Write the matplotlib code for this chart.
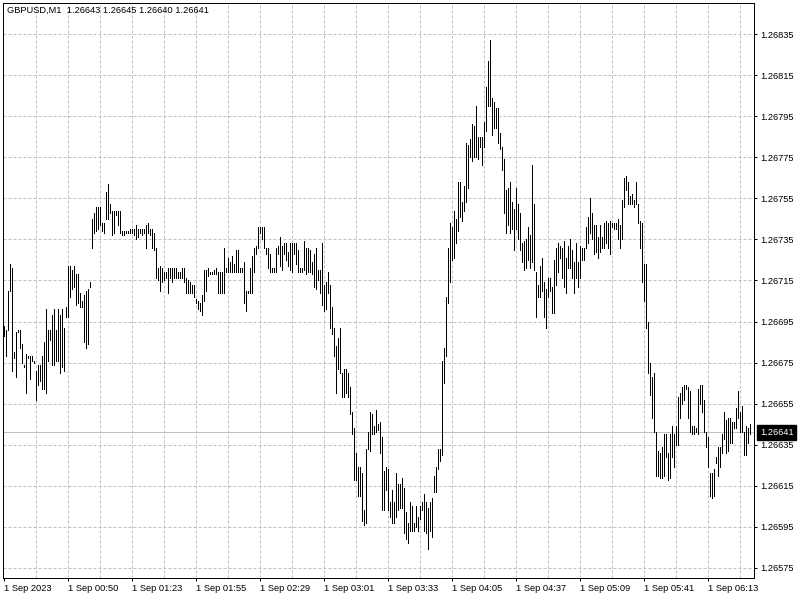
import matplotlib
matplotlib.use("Agg")
import matplotlib.pyplot as plt
import matplotlib.transforms as mtransforms
import numpy as np

# GBPUSD M1 bars, high / low of each minute
highs = [
    1.26693, 1.26691, 1.26710, 1.26723, 1.26721, 1.26680, 1.26690, 1.26691, 1.26691, 1.26684,
    1.26674, 1.26679, 1.26678, 1.26678, 1.26678, 1.26676, 1.26671, 1.26674, 1.26674, 1.26678,
    1.26685, 1.26701, 1.26691, 1.26691, 1.26698, 1.26701, 1.26691, 1.26701, 1.26698, 1.26701,
    1.26692, 1.26702, 1.26722, 1.26722, 1.26720, 1.26722, 1.26718, 1.26718, 1.26709, 1.26705,
    1.26708, 1.26710, 1.26711, 1.26714, 1.26745, 1.26748, 1.26751, 1.26751, 1.26751, 1.26743,
    1.26743, 1.26758, 1.26762, 1.26752, 1.26749, 1.26749, 1.26749, 1.26749, 1.26749, 1.26739,
    1.26739, 1.26739, 1.26739, 1.26740, 1.26740, 1.26740, 1.26742, 1.26740, 1.26740, 1.26740,
    1.26740, 1.26742, 1.26743, 1.26740, 1.26740, 1.26738, 1.26731, 1.26721, 1.26722, 1.26721,
    1.26719, 1.26719, 1.26721, 1.26721, 1.26721, 1.26721, 1.26721, 1.26719, 1.26719, 1.26721,
    1.26721, 1.26716, 1.26715, 1.26714, 1.26713, 1.26713, 1.26706, 1.26705, 1.26704, 1.26708,
    1.26720, 1.26720, 1.26721, 1.26719, 1.26719, 1.26720, 1.26721, 1.26719, 1.26719, 1.26719,
    1.26731, 1.26721, 1.26726, 1.26724, 1.26727, 1.26723, 1.26730, 1.26730, 1.26721, 1.26721,
    1.26724, 1.26710, 1.26710, 1.26721, 1.26727, 1.26731, 1.26732, 1.26741, 1.26741, 1.26741,
    1.26741, 1.26731, 1.26731, 1.26728, 1.26721, 1.26721, 1.26731, 1.26732, 1.26736, 1.26732,
    1.26733, 1.26733, 1.26729, 1.26733, 1.26733, 1.26733, 1.26733, 1.26730, 1.26721, 1.26721,
    1.26734, 1.26731, 1.26731, 1.26730, 1.26724, 1.26728, 1.26731, 1.26720, 1.26720, 1.26733,
    1.26713, 1.26714, 1.26719, 1.26713, 1.26702, 1.26692, 1.26683, 1.26687, 1.26692, 1.26670,
    1.26672, 1.26672, 1.26670, 1.26663, 1.26651, 1.26643, 1.26631, 1.26624, 1.26624, 1.26621,
    1.26603, 1.26633, 1.26641, 1.26651, 1.26650, 1.26644, 1.26652, 1.26645, 1.26646, 1.26639,
    1.26622, 1.26624, 1.26623, 1.26607, 1.26613, 1.26607, 1.26621, 1.26616, 1.26616, 1.26619,
    1.26614, 1.26602, 1.26597, 1.26607, 1.26605, 1.26597, 1.26605, 1.26600, 1.26605, 1.26607,
    1.26611, 1.26607, 1.26604, 1.26607, 1.26609, 1.26620, 1.26624, 1.26633, 1.26633, 1.26676,
    1.26682, 1.26707, 1.26731, 1.26743, 1.26741, 1.26749, 1.26745, 1.26763, 1.26763, 1.26753,
    1.26761, 1.26782, 1.26781, 1.26784, 1.26791, 1.26790, 1.26800, 1.26785, 1.26785, 1.26785,
    1.26792, 1.26809, 1.26822, 1.26832, 1.26804, 1.26802, 1.26799, 1.26799, 1.26787, 1.26780,
    1.26774, 1.26759, 1.26760, 1.26763, 1.26753, 1.26750, 1.26760, 1.26752, 1.26748, 1.26733,
    1.26734, 1.26735, 1.26741, 1.26737, 1.26771, 1.26752, 1.26719, 1.26713, 1.26722, 1.26726,
    1.26714, 1.26711, 1.26716, 1.26716, 1.26712, 1.26725, 1.26731, 1.26733, 1.26732, 1.26731,
    1.26734, 1.26726, 1.26732, 1.26735, 1.26730, 1.26724, 1.26733, 1.26724, 1.26732, 1.26731,
    1.26731, 1.26741, 1.26746, 1.26755, 1.26748, 1.26742, 1.26742, 1.26736, 1.26742, 1.26736,
    1.26743, 1.26744, 1.26743, 1.26744, 1.26743, 1.26743, 1.26743, 1.26745, 1.26742, 1.26754,
    1.26765, 1.26766, 1.26763, 1.26756, 1.26757, 1.26754, 1.26763, 1.26752, 1.26744, 1.26743,
    1.26723, 1.26723, 1.26695, 1.26675, 1.26668, 1.26670, 1.26641, 1.26632, 1.26631, 1.26634,
    1.26640, 1.26640, 1.26631, 1.26640, 1.26644, 1.26640, 1.26644, 1.26658, 1.26660, 1.26663,
    1.26664, 1.26664, 1.26663, 1.26661, 1.26644, 1.26644, 1.26643, 1.26662, 1.26664, 1.26664,
    1.26657, 1.26641, 1.26639, 1.26621, 1.26621, 1.26623, 1.26629, 1.26634, 1.26634, 1.26640,
    1.26651, 1.26647, 1.26648, 1.26648, 1.26646, 1.26646, 1.26653, 1.26661, 1.26651, 1.26654,
    1.26641, 1.26644, 1.26643, 1.26645,
]
lows = [
    1.26688, 1.26678, 1.26691, 1.26710, 1.26671, 1.26677, 1.26668, 1.26690, 1.26682, 1.26675,
    1.26673, 1.26660, 1.26677, 1.26667, 1.26676, 1.26675, 1.26657, 1.26664, 1.26666, 1.26662,
    1.26662, 1.26660, 1.26676, 1.26686, 1.26674, 1.26674, 1.26676, 1.26676, 1.26670, 1.26673,
    1.26671, 1.26697, 1.26697, 1.26707, 1.26711, 1.26712, 1.26703, 1.26704, 1.26702, 1.26702,
    1.26685, 1.26682, 1.26684, 1.26712, 1.26731, 1.26738, 1.26739, 1.26740, 1.26742, 1.26739,
    1.26738, 1.26745, 1.26745, 1.26748, 1.26737, 1.26738, 1.26747, 1.26742, 1.26738, 1.26737,
    1.26737, 1.26738, 1.26738, 1.26738, 1.26738, 1.26737, 1.26735, 1.26736, 1.26738, 1.26737,
    1.26738, 1.26731, 1.26738, 1.26737, 1.26731, 1.26730, 1.26716, 1.26715, 1.26710, 1.26714,
    1.26715, 1.26716, 1.26709, 1.26716, 1.26714, 1.26716, 1.26716, 1.26716, 1.26716, 1.26716,
    1.26714, 1.26709, 1.26709, 1.26709, 1.26709, 1.26707, 1.26704, 1.26701, 1.26700, 1.26698,
    1.26705, 1.26710, 1.26717, 1.26718, 1.26718, 1.26718, 1.26718, 1.26709, 1.26709, 1.26709,
    1.26709, 1.26719, 1.26719, 1.26719, 1.26719, 1.26719, 1.26719, 1.26719, 1.26719, 1.26719,
    1.26704, 1.26700, 1.26709, 1.26709, 1.26709, 1.26719, 1.26728, 1.26731, 1.26738, 1.26735,
    1.26731, 1.26728, 1.26721, 1.26719, 1.26719, 1.26719, 1.26719, 1.26728, 1.26722, 1.26720,
    1.26728, 1.26725, 1.26722, 1.26720, 1.26719, 1.26728, 1.26723, 1.26719, 1.26719, 1.26719,
    1.26720, 1.26718, 1.26719, 1.26719, 1.26718, 1.26712, 1.26711, 1.26715, 1.26709, 1.26703,
    1.26700, 1.26701, 1.26709, 1.26692, 1.26689, 1.26678, 1.26660, 1.26672, 1.26670, 1.26658,
    1.26658, 1.26660, 1.26658, 1.26650, 1.26640, 1.26618, 1.26618, 1.26610, 1.26610, 1.26598,
    1.26596, 1.26597, 1.26633, 1.26632, 1.26640, 1.26640, 1.26641, 1.26642, 1.26631, 1.26603,
    1.26603, 1.26613, 1.26603, 1.26600, 1.26597, 1.26597, 1.26600, 1.26603, 1.26604, 1.26604,
    1.26592, 1.26589, 1.26587, 1.26593, 1.26593, 1.26593, 1.26595, 1.26593, 1.26599, 1.26603,
    1.26593, 1.26592, 1.26584, 1.26593, 1.26590, 1.26612, 1.26612, 1.26623, 1.26627, 1.26630,
    1.26665, 1.26678, 1.26704, 1.26714, 1.26725, 1.26726, 1.26733, 1.26739, 1.26746, 1.26744,
    1.26749, 1.26753, 1.26760, 1.26775, 1.26773, 1.26775, 1.26775, 1.26774, 1.26780, 1.26771,
    1.26780, 1.26788, 1.26800, 1.26800, 1.26786, 1.26789, 1.26789, 1.26782, 1.26779, 1.26769,
    1.26748, 1.26738, 1.26742, 1.26738, 1.26740, 1.26730, 1.26740, 1.26735, 1.26730, 1.26724,
    1.26720, 1.26721, 1.26725, 1.26721, 1.26724, 1.26720, 1.26697, 1.26707, 1.26707, 1.26710,
    1.26697, 1.26692, 1.26707, 1.26710, 1.26699, 1.26699, 1.26713, 1.26719, 1.26726, 1.26716,
    1.26712, 1.26709, 1.26721, 1.26721, 1.26716, 1.26709, 1.26716, 1.26712, 1.26716, 1.26725,
    1.26725, 1.26731, 1.26733, 1.26738, 1.26735, 1.26728, 1.26729, 1.26726, 1.26729, 1.26731,
    1.26731, 1.26733, 1.26731, 1.26728, 1.26741, 1.26740, 1.26740, 1.26735, 1.26731, 1.26735,
    1.26751, 1.26759, 1.26752, 1.26752, 1.26752, 1.26751, 1.26752, 1.26743, 1.26731, 1.26714,
    1.26705, 1.26692, 1.26670, 1.26659, 1.26648, 1.26641, 1.26620, 1.26620, 1.26619, 1.26619,
    1.26620, 1.26629, 1.26618, 1.26619, 1.26629, 1.26624, 1.26635, 1.26635, 1.26648, 1.26655,
    1.26657, 1.26662, 1.26648, 1.26641, 1.26640, 1.26640, 1.26641, 1.26640, 1.26655, 1.26651,
    1.26641, 1.26634, 1.26624, 1.26610, 1.26609, 1.26610, 1.26626, 1.26620, 1.26624, 1.26631,
    1.26638, 1.26631, 1.26632, 1.26636, 1.26636, 1.26643, 1.26643, 1.26648, 1.26641, 1.26641,
    1.26630, 1.26630, 1.26636, 1.26640,
]

time_labels = ["1 Sep 2023", "1 Sep 00:50", "1 Sep 01:23", "1 Sep 01:55", "1 Sep 02:29",
               "1 Sep 03:01", "1 Sep 03:33", "1 Sep 04:05", "1 Sep 04:37", "1 Sep 05:09",
               "1 Sep 05:41", "1 Sep 06:13"]
label_every = 32   # bars between time labels
price_ticks = [1.26575, 1.26595, 1.26615, 1.26635, 1.26655, 1.26675, 1.26695,
               1.26715, 1.26735, 1.26755, 1.26775, 1.26795, 1.26815, 1.26835]
last_price = 1.26641
header = "GBPUSD,M1  1.26643 1.26645 1.26640 1.26641"

FONT = "Liberation Sans"
FS = 6.7
GRID = "#c0c0c0"
px = 72 / 100.0  # one pixel in points

fig = plt.figure(figsize=(8, 6), dpi=100)
ax = fig.add_axes([3 / 800, 22 / 600, 751 / 800, 575 / 600])

idx = np.arange(len(highs))
# 2 px per bar, bars sitting on pixel centres
ax.set_xlim(-0.25, -0.25 + 751 / 2)
ax.set_ylim(1.265701, 1.268501)

# grid
for p in price_ticks:
    ax.axhline(p, color=GRID, lw=px, dashes=(3, 2), zorder=0)
for i in range(16, len(highs), 16):
    ax.axvline(i, color=GRID, lw=px, dashes=(3, 2), zorder=0)

# current price line
ax.axhline(last_price, color="#c0c0c0", lw=px, zorder=1)

# bars
ax.vlines(idx, lows, highs, colors="black", lw=px * 0.9, antialiased=False, zorder=2)

for s in ax.spines.values():
    s.set_linewidth(px)
    s.set_color("black")

ax.yaxis.tick_right()
ax.set_yticks(price_ticks)
ax.set_yticklabels(["%.5f" % p for p in price_ticks], fontfamily=FONT, fontsize=FS)
ax.tick_params(axis="y", length=3 * px, width=px, pad=2.5)

ticks_x = [i * label_every for i in range(len(time_labels))]
ax.set_xticks(ticks_x)
ax.set_xticklabels(time_labels, fontfamily=FONT, fontsize=FS, ha="left")
ax.tick_params(axis="x", length=3 * px, width=px, pad=2)

# price tag on the right axis
trans = mtransforms.blended_transform_factory(ax.transAxes, ax.transData)
ax.annotate("%.5f" % last_price, xy=(1, last_price), xycoords=trans,
            xytext=(6, 0), textcoords="offset pixels", ha="left", va="center",
            color="white", fontfamily=FONT, fontsize=FS, annotation_clip=False,
            bbox=dict(boxstyle="square,pad=0.3", fc="black", ec="black"))

fig.text(7 / 800, 1 - 10 / 600, header, fontfamily=FONT, fontsize=FS, va="center", ha="left")

fig.savefig("out.png", dpi=100)
